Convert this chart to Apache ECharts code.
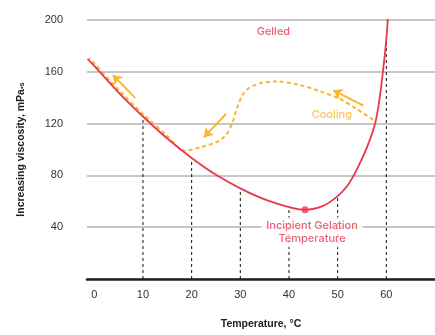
<!DOCTYPE html>
<html><head><meta charset="utf-8">
<script src="https://cdn.jsdelivr.net/npm/echarts@6/dist/echarts.min.js"></script>
<style>html,body{margin:0;padding:0;background:#fff}#c{width:435px;height:335px}</style>
</head><body><div id="c"></div>
<script>
// ---- data ----
const xTicks = [0, 10, 20, 30, 40, 50, 60];
const yTicks = [40, 80, 120, 160, 200];
const heatingCurve = [[-1.4,170],[0,164.5],[5,144],[10,125.5],[15,108.5],[20,93.5],[25,80.5],[30,70],[35,61.5],[40,55.5],[43.3,53.5],[47,56.5],[50,64],[52,72],[53.2,79.3],[54,85],[56,101.5],[57.7,120],[58.6,139],[59.3,160],[60,185],[60.6,218]];
const coolingCurve = [[57.3,123],[54,131],[50.5,139],[46,145.5],[42,150],[37.5,152.5],[34.5,151.5],[32,148],[30.6,143],[29.3,131.8],[28.3,120],[27,111],[25,105.5],[22,102],[18.6,99],[15,110.5],[10,127.5],[5,146],[0,166.5],[-1,170.5]];
const dropX = [10, 20, 30, 40, 50, 60];
const gelPoint = [43.3, 53.5];
const gelLabel = 'Incipient Gelation\nTemperature';
const textNotes = [{name:'Gelled', at:[36.8,190.7], color:'#e8384f'}, {name:'Cooling', at:[48.8,126.7], color:'#fbb531'}];
const arrows = [
  {from:[8.4,139.9], to:[3.8,157.6], curve:0},
  {from:[27.1,127.5], to:[22.5,109.5], curve:0.3},
  {from:[55.3,133.9], to:[49.1,145.7], curve:0}
];
// ---- chart ----
const RED = '#e8384f', ORANGE = '#fbb531';
const chart = echarts.init(document.getElementById('c'), null, {renderer:'canvas'});
const yAt = x => (heatingCurve.find(p => p[0] === x) || [x,0])[1];
const dropSeries = dropX.map(x => ({
  type:'line', data:[[x,0],[x,yAt(x)]], symbol:'none', z:1, silent:true,
  lineStyle:{color:'#111', width:1, type:[3,3]}
}));
chart.setOption({
  animation:false,
  grid:{left:87, right:0, top:20, bottom:51},
  xAxis:{type:'value', min:-1.5, max:70,
    name:'Temperature, °C', nameLocation:'middle', nameGap:40,
    nameTextStyle:{fontFamily:'Liberation Sans', fontWeight:'bold', fontSize:10.5, color:'#222'},
    axisLine:{show:true, lineStyle:{color:'#222', width:2.5}},
    axisTick:{show:false}, splitLine:{show:false},
    axisLabel:{customValues:xTicks, margin:10, fontFamily:'Liberation Sans', fontSize:11, color:'#333'}
  },
  yAxis:{type:'value', min:0, max:200, interval:40,
    name:'Increasing viscosity, mPa{s|•s}', nameLocation:'middle', nameGap:60, nameRotate:90,
    nameTextStyle:{fontFamily:'Liberation Sans', fontWeight:'bold', fontSize:10.5, color:'#222', rich:{s:{fontSize:7.5, fontFamily:'Liberation Sans', color:'#222'}}},
    axisLine:{show:false}, axisTick:{show:false},
    splitLine:{lineStyle:{color:'#b3b3b3', width:1.5}},
    axisLabel:{margin:24, fontFamily:'Liberation Sans', fontSize:11, color:'#333', formatter:v => yTicks.includes(v) ? String(v) : ''}
  },
  series:[
    ...dropSeries,
    {type:'line', name:'Cooling', data:coolingCurve, smooth:0.3, symbol:'none', z:3,
     lineStyle:{color:ORANGE, width:2, type:[4,3]},
     markLine:{silent:true, symbol:['none','arrow'], symbolSize:9, label:{show:false},
       lineStyle:{color:ORANGE, width:2, type:'solid'},
       data:arrows.map(a => [{coord:a.from, lineStyle:{curveness:a.curve}}, {coord:a.to}])}
    },
    {type:'line', name:'Heating', data:heatingCurve, smooth:0.35, symbol:'none', z:4,
     lineStyle:{color:RED, width:1.8}},
    {type:'scatter', data:[gelPoint], symbolSize:7, z:6, itemStyle:{color:RED},
     label:{show:true, position:'bottom', distance:4, offset:[7,0], formatter:gelLabel,
       align:'center', color:RED, fontFamily:'Inter', fontSize:11, fontWeight:500, lineHeight:13,
       backgroundColor:'#fff', padding:[2,5,2,5]}},
    {type:'scatter', data:textNotes.map(t => ({value:t.at, name:t.name, label:{color:t.color}})),
     symbolSize:0, z:6, silent:true,
     label:{show:true, position:'inside', formatter:'{b}', fontFamily:'Inter', fontSize:11, fontWeight:500}}
  ]
});
</script></body></html>
